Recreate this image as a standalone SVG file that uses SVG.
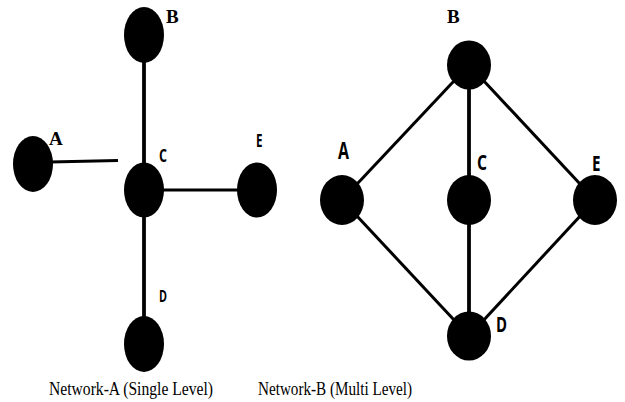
<svg xmlns="http://www.w3.org/2000/svg" width="625" height="402" viewBox="0 0 625 402">
<style>
.node{fill:#000}
.edge{stroke:#000;stroke-width:3;fill:none}
.thick{stroke-width:3.8}
.serif{font-family:"Liberation Serif","Times New Roman",serif;font-weight:bold;font-size:19px;fill:#000}
.sans{font-family:"Open Sans","DejaVu Sans",sans-serif;font-weight:bold;fill:#000}
.cap{font-family:"Liberation Serif","Times New Roman",serif;font-size:19px;fill:#000}
</style>
<rect width="625" height="402" fill="#fff"/>
<g id="connectors">
<line class="edge thick" x1="144" y1="60" x2="144" y2="166"/>
<line class="edge" x1="50" y1="162" x2="118" y2="160.5"/>
<line class="edge" x1="162" y1="190" x2="240" y2="190"/>
<line class="edge thick" x1="144" y1="214" x2="144" y2="320"/>
<line class="edge" x1="469" y1="65" x2="342" y2="200"/>
<line class="edge thick" x1="469" y1="65" x2="469" y2="200"/>
<line class="edge" x1="469" y1="65" x2="595" y2="200"/>
<line class="edge" x1="342" y1="200" x2="469" y2="336"/>
<line class="edge thick" x1="469" y1="200" x2="469" y2="336"/>
<line class="edge" x1="595" y1="200" x2="469" y2="336"/>
</g>
<g id="netA-B"><ellipse class="node" cx="144" cy="35" rx="20" ry="28"/><text class="serif" x="166" y="23">B</text></g>
<g id="netA-A"><ellipse class="node" cx="33" cy="164" rx="20" ry="28"/><text class="serif" x="49" y="145">A</text></g>
<g id="netA-C"><ellipse class="node" cx="144" cy="190" rx="20" ry="27.5"/><text class="sans" x="159" y="162" font-size="17" textLength="8" lengthAdjust="spacingAndGlyphs">C</text></g>
<g id="netA-E"><ellipse class="node" cx="257" cy="190" rx="20" ry="27.5"/><text class="sans" x="256" y="147" font-size="17" textLength="6.5" lengthAdjust="spacingAndGlyphs">E</text></g>
<g id="netA-D"><ellipse class="node" cx="144" cy="344" rx="20" ry="28"/><text class="sans" x="159" y="302" font-size="16.5" textLength="8" lengthAdjust="spacingAndGlyphs">D</text></g>
<g id="netB-B"><ellipse class="node" cx="469" cy="65" rx="22" ry="24.5"/><text class="serif" x="447" y="23">B</text></g>
<g id="netB-A"><ellipse class="node" cx="342" cy="200" rx="22" ry="25"/><text class="sans" x="338" y="159" font-size="23" textLength="11" lengthAdjust="spacingAndGlyphs">A</text></g>
<g id="netB-C"><ellipse class="node" cx="469" cy="200" rx="22" ry="25"/><text class="sans" x="477" y="170" font-size="22" textLength="10" lengthAdjust="spacingAndGlyphs">C</text></g>
<g id="netB-E"><ellipse class="node" cx="595" cy="200" rx="22" ry="25"/><text class="sans" x="592" y="171" font-size="21" textLength="8.5" lengthAdjust="spacingAndGlyphs">E</text></g>
<g id="netB-D"><ellipse class="node" cx="469" cy="336" rx="22" ry="24.5"/><text class="sans" x="496" y="332" font-size="21" textLength="11" lengthAdjust="spacingAndGlyphs">D</text></g>
<g id="captions">
<text class="cap" x="49" y="395" textLength="164" lengthAdjust="spacingAndGlyphs">Network-A (Single Level)</text>
<text class="cap" x="258" y="395" textLength="154" lengthAdjust="spacingAndGlyphs">Network-B (Multi Level)</text>
</g>
</svg>
